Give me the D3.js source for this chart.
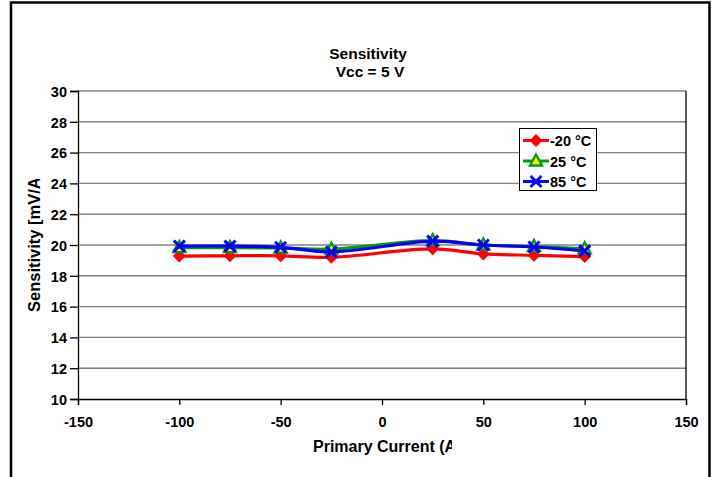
<!DOCTYPE html>
<html><head><meta charset="utf-8">
<script src="https://cdn.jsdelivr.net/npm/d3@7/dist/d3.min.js"></script>
<style>body{margin:0;background:#fff;}svg{display:block;font-family:"Liberation Sans",Arial,sans-serif;font-weight:bold;}</style>
</head><body>
<svg id="c" width="715" height="477"></svg>
<script>
const current = [-100, -75, -50, -25, 25, 50, 75, 100];
const sensM20 = [19.28, 19.3, 19.3, 19.2, 19.75, 19.42, 19.33, 19.25];
const sens25 = [19.83, 19.83, 19.8, 19.73, 20.28, 20.0, 19.9, 19.75];
const sens85 = [19.93, 19.93, 19.85, 19.55, 20.25, 20.0, 19.87, 19.62];
const seriesNames = ["-20 °C", "25 °C", "85 °C"];
const xTicks = [-150, -100, -50, 0, 50, 100, 150];
const yTicks = [10, 12, 14, 16, 18, 20, 22, 24, 26, 28, 30];

const svg = d3.select("#c");
const L = 78, R = 686, T = 91, B = 399;
const x = d3.scaleLinear().domain([-150, 150]).range([L, R]);
const y = d3.scaleLinear().domain([10, 30]).range([B, T]);
const FF = '"Liberation Sans",Arial,sans-serif';

// outer frame
svg.append("rect").attr("x", 11).attr("y", 2.5).attr("width", 698.5).attr("height", 490)
  .attr("fill", "none").attr("stroke", "#000").attr("stroke-width", 2.5);

// gridlines
svg.append("g").selectAll("line").data(yTicks.filter(v => v > 10)).join("line")
  .attr("x1", L).attr("x2", R).attr("y1", d => y(d)).attr("y2", d => y(d))
  .attr("stroke", "#808080").attr("stroke-width", 1.4);
svg.append("line").attr("x1", R).attr("x2", R).attr("y1", T).attr("y2", B)
  .attr("stroke", "#000").attr("stroke-width", 1.3);

// axes
const xa = svg.append("g").attr("transform", `translate(0,${B})`)
  .call(d3.axisBottom(x).tickValues(xTicks).tickSize(6).tickPadding(5).tickFormat(d => String(d)));
const ya = svg.append("g").attr("transform", `translate(${L},0)`)
  .call(d3.axisLeft(y).tickValues(yTicks).tickSize(8).tickPadding(3).tickFormat(d => String(d)));
[xa, ya].forEach(g => {
  g.select(".domain").attr("stroke", "#000").attr("stroke-width", 1.3);
  g.selectAll(".tick line").attr("stroke", "#000").attr("stroke-width", 1.3);
  g.selectAll("text").attr("font-size", 14.5).attr("font-weight", "bold")
    .attr("font-family", FF).attr("fill", "#000");
});
xa.selectAll("text").attr("y", 28).attr("dy", null);
ya.selectAll("text").attr("dy", "0.36em");

// titles
svg.append("text").attr("x", 368).attr("y", 58.5).attr("text-anchor", "middle").attr("font-size", 15.5).text("Sensitivity");
svg.append("text").attr("x", 370).attr("y", 76.5).attr("text-anchor", "middle").attr("font-size", 15.5).text("Vcc = 5 V");

const defs = svg.append("defs");
defs.append("clipPath").attr("id", "cx").append("rect").attr("x", 0).attr("y", 430).attr("width", 452).attr("height", 47);
defs.append("clipPath").attr("id", "cy").append("rect").attr("x", 0).attr("y", 179).attr("width", 60).attr("height", 200);
svg.append("text").attr("clip-path", "url(#cx)").attr("x", 313).attr("y", 452).attr("text-anchor", "start")
  .attr("font-size", 16).text("Primary Current (A)");
svg.append("g").attr("clip-path", "url(#cy)").append("text")
  .attr("transform", "translate(40,312) rotate(-90)").attr("text-anchor", "start")
  .attr("font-size", 16.5).text("Sensitivity [mV/A]");

// series
const colors = ["#ff0000", "#00a000", "#0000ff"];
const data = [sensM20, sens25, sens85];
const line = d3.line().x((d, i) => x(current[i])).y(d => y(d)).curve(d3.curveCatmullRom.alpha(0.5));

function marker(g, k, cx, cy) {
  if (k === 0) {
    g.append("path").attr("d", `M${cx},${cy-6.5}L${cx+6.5},${cy}L${cx},${cy+6.5}L${cx-6.5},${cy}Z`).attr("fill", colors[0]);
  } else if (k === 1) {
    g.append("path").attr("d", `M${cx},${cy-6.5}L${cx+6},${cy+4.5}L${cx-6},${cy+4.5}Z`)
      .attr("fill", "#ffff00").attr("stroke", colors[1]).attr("stroke-width", 2.4);
  } else {
    g.append("path").attr("d", `M${cx-5.5},${cy-5.5}L${cx+5.5},${cy+5.5}M${cx-5.5},${cy+5.5}L${cx+5.5},${cy-5.5}`)
      .attr("stroke", colors[2]).attr("stroke-width", 3).attr("fill", "none");
  }
}

data.forEach((vals, k) => {
  const g = svg.append("g");
  g.append("path").datum(vals).attr("d", line).attr("fill", "none")
    .attr("stroke", colors[k]).attr("stroke-width", 3.2);
  vals.forEach((v, i) => marker(g, k, x(current[i]), y(v)));
});

// legend
const lg = svg.append("g");
lg.append("rect").attr("x", 519.5).attr("y", 128.5).attr("width", 77).attr("height", 62)
  .attr("fill", "#fff").attr("stroke", "#000").attr("stroke-width", 1);
seriesNames.forEach((n, k) => {
  const yy = 140.5 + k * 20.5;
  lg.append("line").attr("x1", 523).attr("x2", 549).attr("y1", yy).attr("y2", yy)
    .attr("stroke", colors[k]).attr("stroke-width", 3);
  marker(lg, k, 536, yy);
  lg.append("text").attr("x", 550).attr("y", yy + 5.5).attr("font-size", 14.5).text(n);
});
</script>
</body></html>
